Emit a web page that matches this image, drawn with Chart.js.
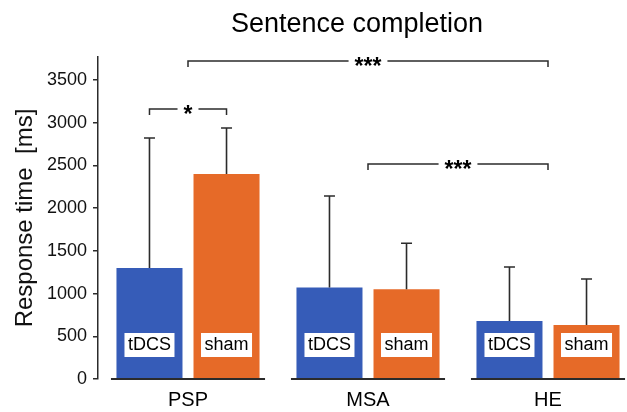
<!DOCTYPE html>
<html><head><meta charset="utf-8">
<script src="https://cdn.jsdelivr.net/npm/chart.js@4/dist/chart.umd.min.js"></script>
<style>
html,body{margin:0;padding:0;overflow:hidden;background:#fff;width:627px;height:412px}
#wrap{width:640px;height:412px;position:relative}
</style></head>
<body><div id="wrap"><canvas id="c" width="640" height="412"></canvas></div>
<script>
const categories = ['PSP', 'MSA', 'HE'];
const seriesNames = ['tDCS', 'sham'];
const tdcsMean = [1300, 1070, 680];
const shamMean = [2400, 1050, 632];
const tdcsErrTop = [2822, 2143, 1312];
const shamErrTop = [2939, 1589, 1171];
const yTickValues = [0, 500, 1000, 1500, 2000, 2500, 3000, 3500];
const yMax = 3770;
// bracket ends: [category index, series index] (-1 = centre of the group)
const bracketFrom = [[0, 0], [0, -1], [1, -1]];
const bracketTo = [[0, 1], [2, -1], [2, -1]];
const bracketLevel = [3162, 3724, 2518];
const bracketMark = ['*', '***', '***'];
const titleText = 'Sentence completion';
const yTitleText = 'Response time  [ms]';

const FONT = "'Liberation Sans', Arial, Helvetica, sans-serif";
const INK = '#2b2b2b';
const barColors = ['#365cb8', '#e66a28'];
const catPct = 0.856, barPct = 0.857;

const overlay = {
  id: 'overlay',
  afterDatasetsDraw(chart) {
    const ctx = chart.ctx;
    const x = chart.scales.x, y = chart.scales.y;
    const area = chart.chartArea;
    const errs = [tdcsErrTop, shamErrTop];
    ctx.save();
    // error bars
    ctx.strokeStyle = INK;
    ctx.lineWidth = 1.6;
    for (let d = 0; d < 2; d++) {
      const meta = chart.getDatasetMeta(d);
      meta.data.forEach((bar, i) => {
        const top = y.getPixelForValue(errs[d][i]);
        ctx.beginPath();
        ctx.moveTo(bar.x, bar.y);
        ctx.lineTo(bar.x, top);
        ctx.moveTo(bar.x - 5.5, top);
        ctx.lineTo(bar.x + 5.5, top);
        ctx.stroke();
      });
    }
    // label boxes inside bars
    ctx.font = '18px ' + FONT;
    ctx.textAlign = 'center';
    ctx.textBaseline = 'alphabetic';
    for (let d = 0; d < 2; d++) {
      const meta = chart.getDatasetMeta(d);
      meta.data.forEach((bar) => {
        const w = ctx.measureText(seriesNames[d]).width + 7;
        ctx.fillStyle = '#fff';
        ctx.fillRect(bar.x - w / 2, area.bottom - 46, w, 24);
        ctx.fillStyle = '#000';
        ctx.fillText(seriesNames[d], bar.x, area.bottom - 29);
      });
    }
    // group baselines
    const step = x.getPixelForValue(1) - x.getPixelForValue(0);
    ctx.strokeStyle = INK;
    ctx.lineWidth = 2;
    categories.forEach((c, i) => {
      const cx = x.getPixelForValue(i);
      ctx.beginPath();
      ctx.moveTo(cx - step * catPct / 2, area.bottom);
      ctx.lineTo(cx + step * catPct / 2, area.bottom);
      ctx.stroke();
    });
    // significance brackets
    const endX = (e) => e[1] < 0 ? x.getPixelForValue(e[0]) : chart.getDatasetMeta(e[1]).data[e[0]].x;
    ctx.font = 'bold 23px ' + FONT;
    ctx.lineWidth = 1.5;
    for (let b = 0; b < bracketLevel.length; b++) {
      const x1 = endX(bracketFrom[b]), x2 = endX(bracketTo[b]);
      const ly = y.getPixelForValue(bracketLevel[b]);
      const m = ctx.measureText(bracketMark[b]);
      const mid = (x1 + x2) / 2;
      const gap = m.width / 2 + 6;
      ctx.beginPath();
      ctx.moveTo(x1, ly + 6); ctx.lineTo(x1, ly); ctx.lineTo(mid - gap, ly);
      ctx.moveTo(mid + gap, ly); ctx.lineTo(x2, ly); ctx.lineTo(x2, ly + 6);
      ctx.stroke();
      ctx.fillStyle = '#000';
      const asc = m.actualBoundingBoxAscent, desc = m.actualBoundingBoxDescent;
      ctx.fillText(bracketMark[b], mid, ly + (asc - desc) / 2 + 1);
    }
    ctx.restore();
  },
  afterDraw(chart) {
    const ctx = chart.ctx;
    ctx.save();
    ctx.font = '27px ' + FONT;
    ctx.fillStyle = '#000';
    ctx.textAlign = 'center';
    ctx.textBaseline = 'alphabetic';
    ctx.fillText(titleText, 357, 32);
    ctx.restore();
  }
};

new Chart(document.getElementById('c'), {
  type: 'bar',
  data: {
    labels: categories,
    datasets: [
      { label: seriesNames[0], data: tdcsMean, backgroundColor: barColors[0] },
      { label: seriesNames[1], data: shamMean, backgroundColor: barColors[1] }
    ]
  },
  options: {
    responsive: false,
    animation: false,
    devicePixelRatio: 1,
    categoryPercentage: catPct,
    barPercentage: barPct,
    layout: { padding: { top: 57, right: 2, left: 0, bottom: 0 } },
    plugins: { legend: { display: false }, tooltip: { enabled: false }, title: { display: false } },
    scales: {
      x: {
        grid: { display: false, drawTicks: false },
        border: { display: false },
        ticks: { color: '#000', font: { family: FONT, size: 20 }, padding: 9 },
        afterFit(s) { s.height = 33; }
      },
      y: {
        min: 0,
        max: yMax,
        afterBuildTicks(s) { s.ticks = yTickValues.map(v => ({ value: v })); },
        grid: { drawOnChartArea: false, drawTicks: true, tickLength: 5, color: INK, lineWidth: 1.5 },
        border: { display: true, color: INK, width: 1.5 },
        ticks: { color: '#111', font: { family: FONT, size: 18 }, padding: 6, callback: (v) => String(v) },
        title: { display: true, text: yTitleText, color: '#111', font: { family: FONT, size: 24 }, padding: { top: 11, bottom: 0 } },
        afterFit(s) { s.width = 98; }
      }
    }
  },
  plugins: [overlay]
});
</script>
</body></html>
